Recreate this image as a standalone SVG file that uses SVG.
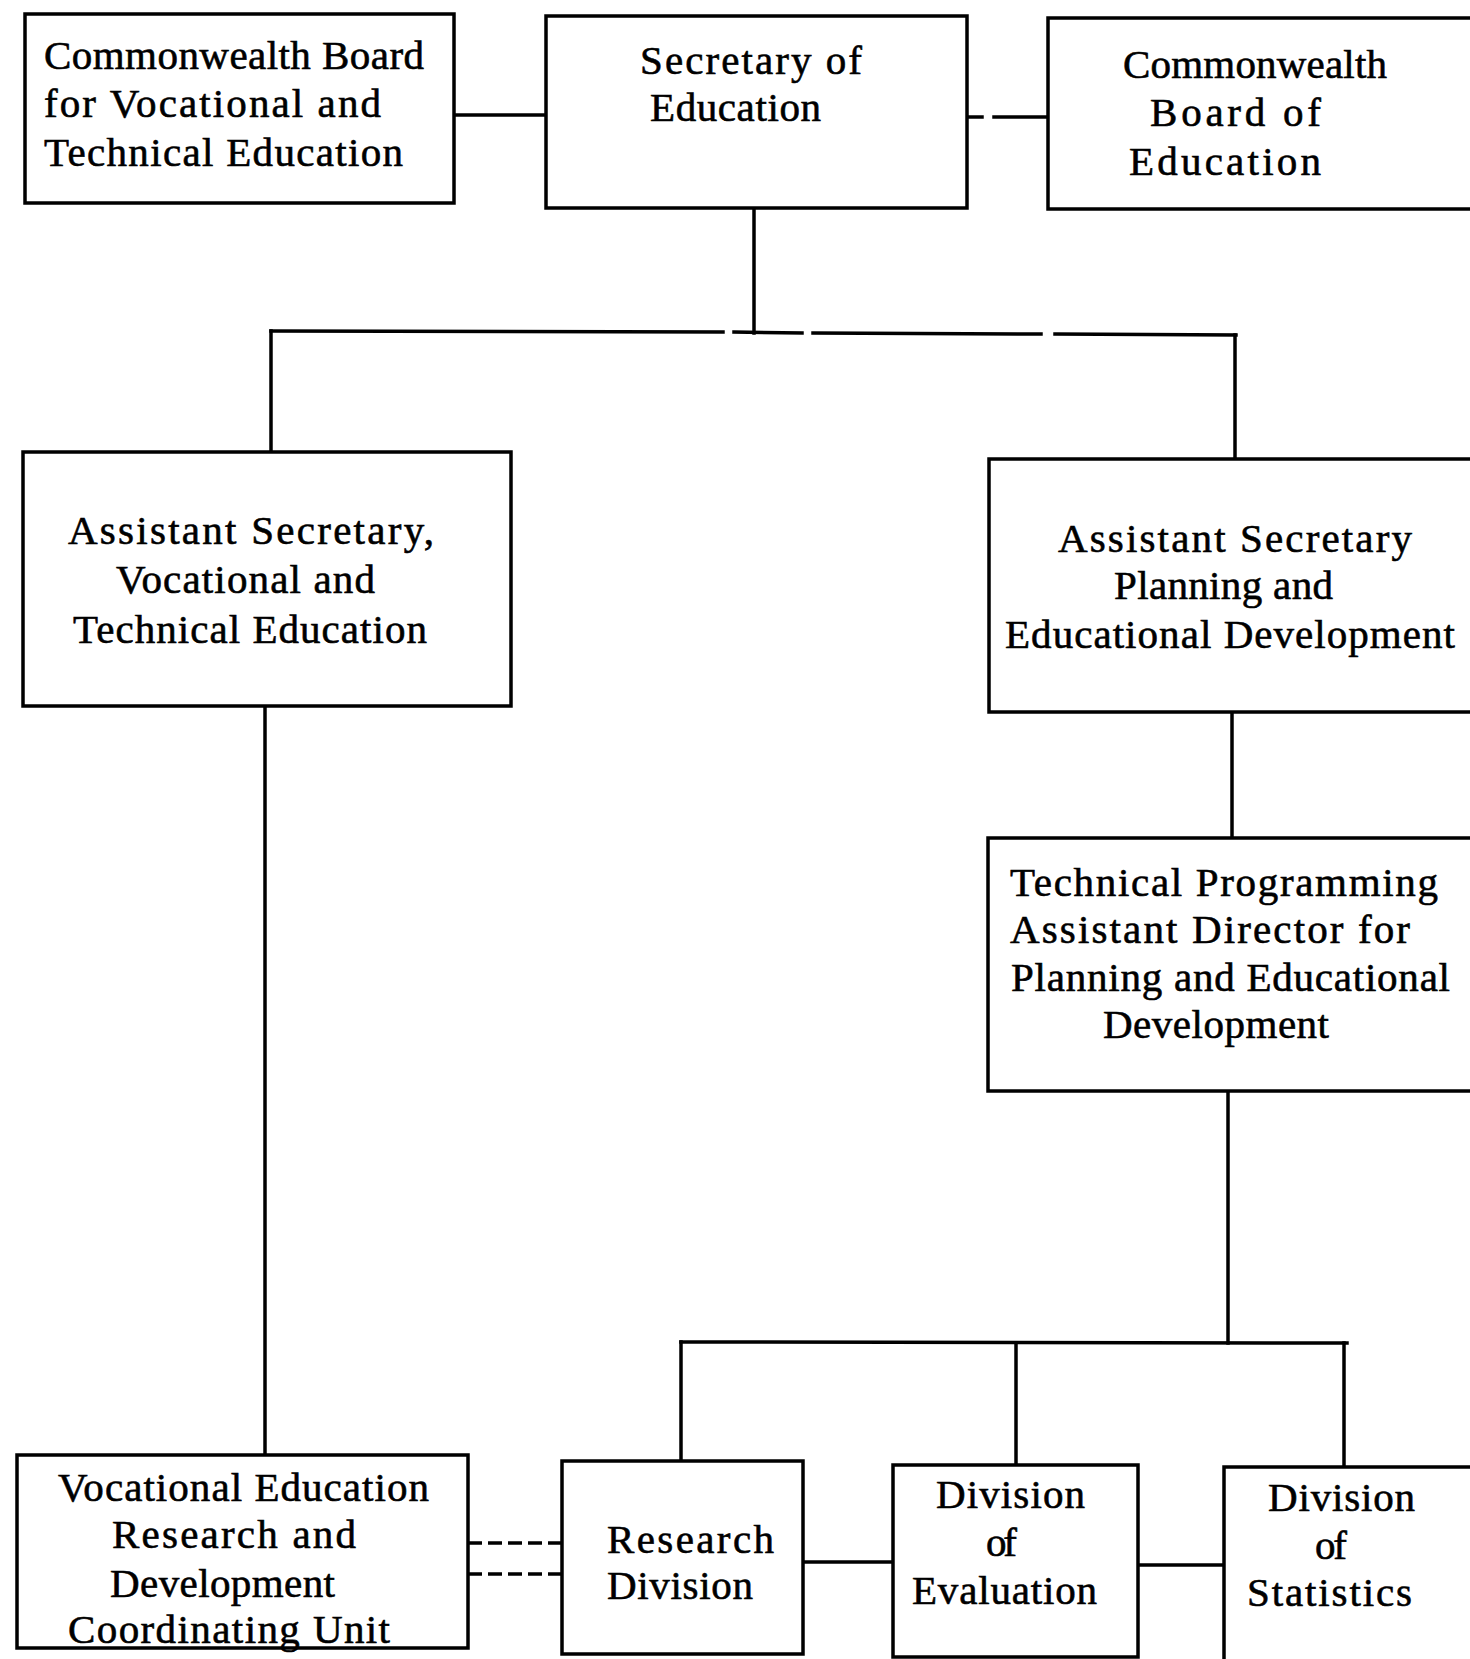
<svg xmlns="http://www.w3.org/2000/svg" width="1470" height="1659" viewBox="0 0 1470 1659">
<style>
.box{fill:#fff;stroke:#000;stroke-width:3.5}
.ln{stroke:#000;stroke-width:3.5;fill:none;stroke-linecap:square}
.dash{stroke:#000;stroke-width:3.5;fill:none;stroke-dasharray:14 6}
text{font-family:"Liberation Serif","Times New Roman",serif;font-size:41px;fill:#000;stroke:#000;stroke-width:0.6}
</style>
<rect width="1470" height="1659" fill="#fff"/>
<g id="connectors">
<line class="ln" x1="454" y1="115" x2="546" y2="115"/>
<line class="ln" x1="967" y1="117" x2="982" y2="117"/>
<line class="ln" x1="994" y1="117" x2="1048" y2="117"/>
<line class="ln" x1="754" y1="208" x2="754" y2="333"/>
<line class="ln" x1="271" y1="331" x2="723" y2="332"/>
<line class="ln" x1="734" y1="332" x2="802" y2="333"/>
<line class="ln" x1="813" y1="333" x2="1041" y2="334"/>
<line class="ln" x1="1055" y1="334" x2="1236" y2="335"/>
<line class="ln" x1="271" y1="331" x2="271" y2="452"/>
<line class="ln" x1="1235" y1="335" x2="1235" y2="459"/>
<line class="ln" x1="265" y1="706" x2="265" y2="1455"/>
<line class="ln" x1="1232" y1="712" x2="1232" y2="838"/>
<line class="ln" x1="1228" y1="1091" x2="1228" y2="1343"/>
<line class="ln" x1="681" y1="1342" x2="1347" y2="1343"/>
<line class="ln" x1="681" y1="1342" x2="681" y2="1461"/>
<line class="ln" x1="1016" y1="1343" x2="1016" y2="1465"/>
<line class="ln" x1="1344" y1="1343" x2="1344" y2="1467"/>
<line class="dash" x1="468" y1="1543" x2="562" y2="1543"/>
<line class="dash" x1="468" y1="1574" x2="562" y2="1574"/>
<line class="ln" x1="803" y1="1562" x2="893" y2="1562"/>
<line class="ln" x1="1138" y1="1565" x2="1224" y2="1565"/>
</g>
<g id="n1">
<rect class="box" x="25" y="14" width="429" height="189"/>
<text x="44" y="69" textLength="380">Commonwealth Board</text>
<text x="44" y="117" textLength="337">for Vocational and</text>
<text x="44" y="166" textLength="359">Technical Education</text>
</g>
<g id="n2">
<rect class="box" x="546" y="16" width="421" height="192"/>
<text x="640" y="74" textLength="222">Secretary of</text>
<text x="650" y="121" textLength="171">Education</text>
</g>
<g id="n3">
<rect class="box" x="1048" y="18" width="430" height="191"/>
<text x="1123" y="78" textLength="264">Commonwealth</text>
<text x="1150" y="126" textLength="171">Board of</text>
<text x="1129" y="175" textLength="192">Education</text>
</g>
<g id="n4">
<rect class="box" x="23" y="452" width="488" height="254"/>
<text x="68" y="544" textLength="366">Assistant Secretary,</text>
<text x="116" y="593" textLength="259">Vocational and</text>
<text x="73" y="643" textLength="354">Technical Education</text>
</g>
<g id="n5">
<rect class="box" x="989" y="459" width="490" height="253"/>
<text x="1058" y="552" textLength="354">Assistant Secretary</text>
<text x="1114" y="599" textLength="219">Planning and</text>
<text x="1005" y="648" textLength="450">Educational Development</text>
</g>
<g id="n6">
<rect class="box" x="988" y="838" width="491" height="253"/>
<text x="1010" y="896" textLength="428">Technical Programming</text>
<text x="1010" y="943" textLength="400">Assistant Director for</text>
<text x="1011" y="991" textLength="439">Planning and Educational</text>
<text x="1103" y="1038" textLength="226">Development</text>
</g>
<g id="n7">
<rect class="box" x="17" y="1455" width="451" height="193"/>
<text x="58" y="1501" textLength="371">Vocational Education</text>
<text x="112" y="1548" textLength="244">Research and</text>
<text x="110" y="1597" textLength="225">Development</text>
<text x="68" y="1643" textLength="322">Coordinating Unit</text>
</g>
<g id="n8">
<rect class="box" x="562" y="1461" width="241" height="193"/>
<text x="607" y="1553" textLength="167">Research</text>
<text x="607" y="1599" textLength="146">Division</text>
</g>
<g id="n9">
<rect class="box" x="893" y="1465" width="245" height="192"/>
<text x="936" y="1508" textLength="149">Division</text>
<text x="986" y="1556" textLength="31">of</text>
<text x="912" y="1604" textLength="185">Evaluation</text>
</g>
<g id="n10">
<rect class="box" x="1224" y="1467" width="255" height="200"/>
<text x="1268" y="1511" textLength="147">Division</text>
<text x="1315" y="1559" textLength="32">of</text>
<text x="1247" y="1606" textLength="165">Statistics</text>
</g>
</svg>
